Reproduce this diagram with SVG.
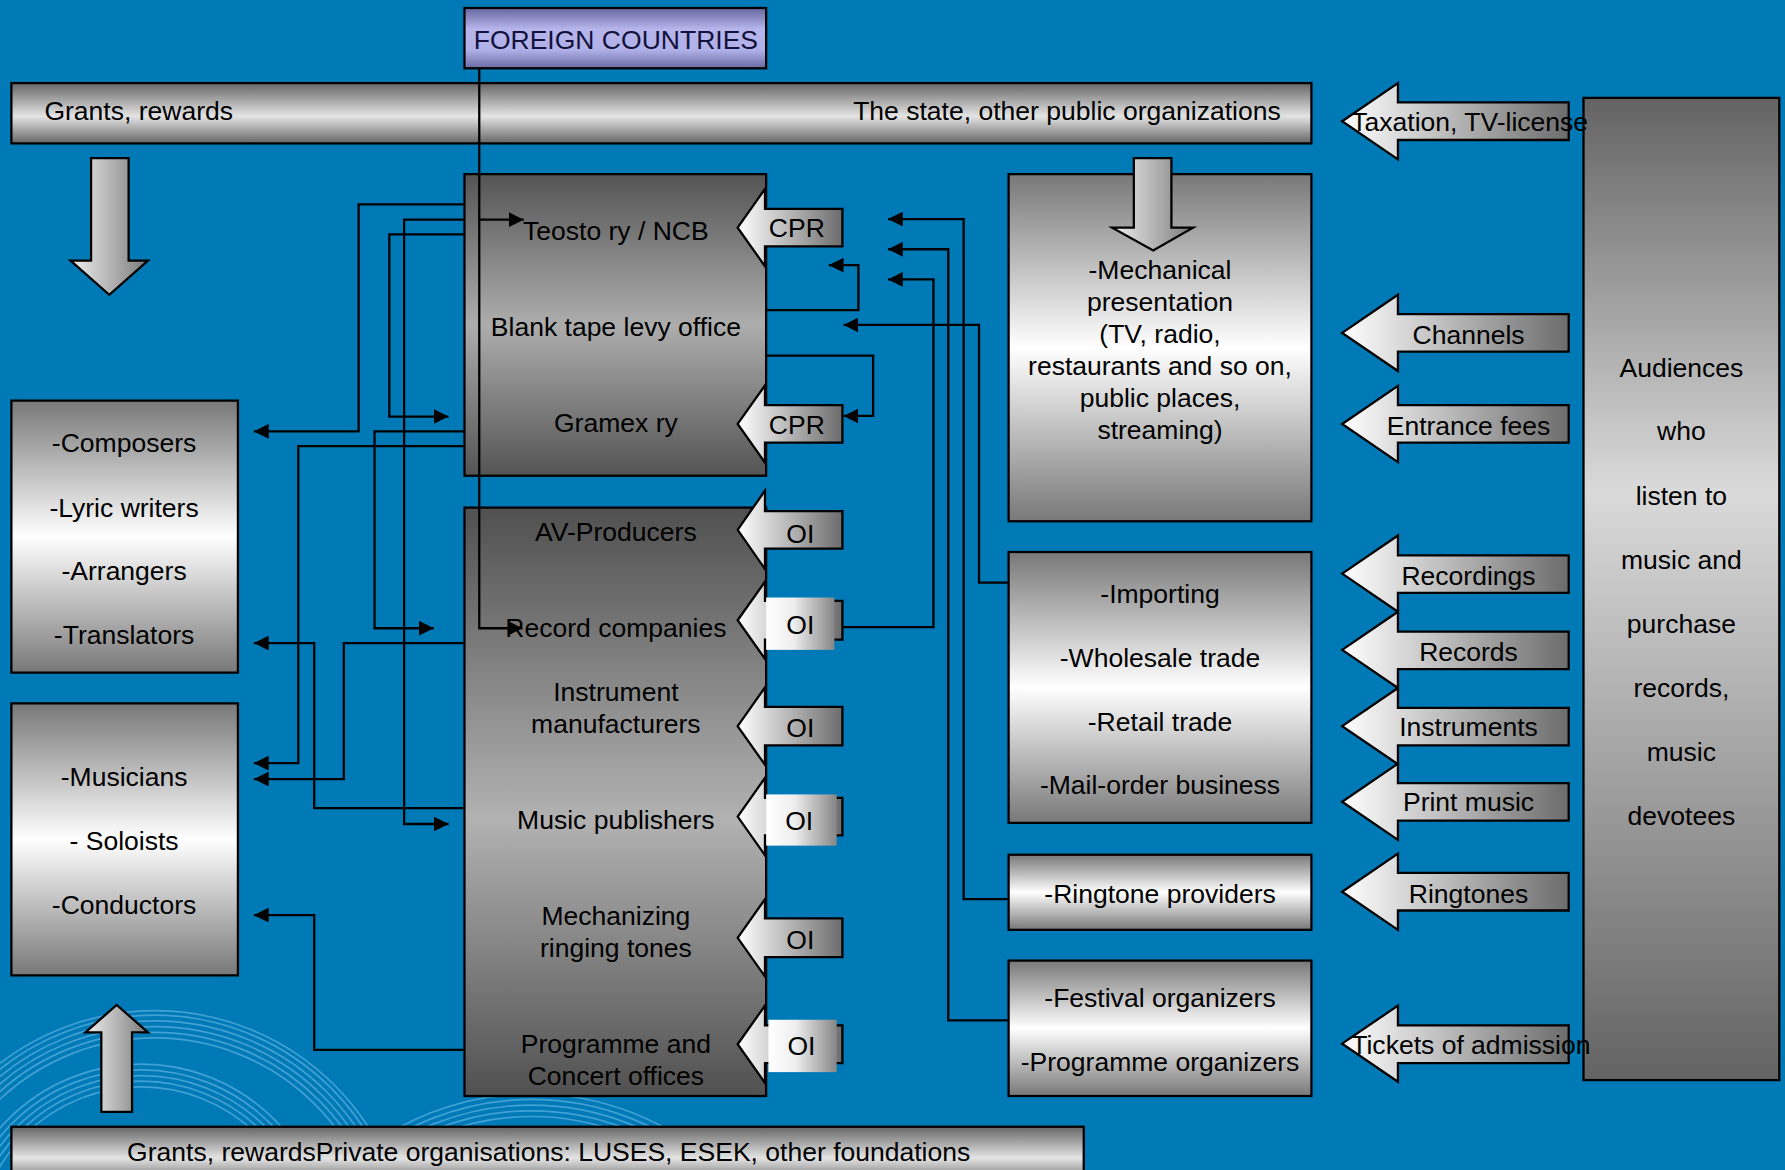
<svg xmlns="http://www.w3.org/2000/svg" width="1785" height="1170" viewBox="0 0 1785 1170">
<defs>
<style>
.t{font-family:"Liberation Sans",Arial,sans-serif;font-size:23.3px;fill:#000;text-anchor:middle}
.ts{text-anchor:start}
.te{text-anchor:end}
.bx{stroke:#000;stroke-width:2}
.ar{stroke:#000;stroke-width:2}
.c{fill:none;stroke:#000;stroke-width:2;marker-end:url(#ah)}
.ring{fill:none;stroke:#6cbbe8;stroke-width:1.5;opacity:0.6}
</style>
<linearGradient id="gBar" x1="0" y1="0" x2="0" y2="1">
<stop offset="0" stop-color="#666"/><stop offset="0.55" stop-color="#e4e4e4"/><stop offset="1" stop-color="#666"/>
</linearGradient>
<linearGradient id="gForeign" x1="0" y1="0" x2="0" y2="1">
<stop offset="0" stop-color="#66669e"/><stop offset="0.35" stop-color="#b6b6ec"/><stop offset="0.7" stop-color="#b0b0e8"/><stop offset="1" stop-color="#6a6aa2"/>
</linearGradient>
<linearGradient id="gDark" x1="0" y1="0" x2="0" y2="1">
<stop offset="0" stop-color="#545454"/><stop offset="0.5" stop-color="#adadad"/><stop offset="1" stop-color="#545454"/>
</linearGradient>
<linearGradient id="gProd" x1="0" y1="0" x2="0" y2="1">
<stop offset="0" stop-color="#505050"/><stop offset="0.53" stop-color="#b2b2b2"/><stop offset="1" stop-color="#505050"/>
</linearGradient>
<linearGradient id="gLight" x1="0" y1="0" x2="0" y2="1">
<stop offset="0" stop-color="#787878"/><stop offset="0.5" stop-color="#ffffff"/><stop offset="1" stop-color="#787878"/>
</linearGradient>
<linearGradient id="gAud" x1="0" y1="0" x2="0" y2="1">
<stop offset="0" stop-color="#636363"/><stop offset="0.4" stop-color="#dadada"/><stop offset="1" stop-color="#636363"/>
</linearGradient>
<linearGradient id="gArrow" x1="0" y1="0" x2="1" y2="0">
<stop offset="0" stop-color="#ffffff"/><stop offset="1" stop-color="#6c6c6c"/>
</linearGradient>
<linearGradient id="gOv" x1="0" y1="0" x2="1" y2="0">
<stop offset="0" stop-color="#ffffff"/><stop offset="0.4" stop-color="#eeeeee"/><stop offset="1" stop-color="#868686"/>
</linearGradient>
<linearGradient id="gBig" x1="0" y1="0" x2="1" y2="0">
<stop offset="0" stop-color="#f0f0f0"/><stop offset="1" stop-color="#7a7a7a"/>
</linearGradient>
<marker id="ah" viewBox="0 0 13 13" refX="13" refY="6.5" markerWidth="13" markerHeight="13" markerUnits="userSpaceOnUse" orient="auto">
<path d="M0,0 L13,6.5 L0,13 z" fill="#000"/>
</marker>
</defs>
<rect x="0" y="0" width="1785" height="1170" fill="#007ab7"/>
<g transform="scale(1.13839,1.13813)">
<g id="decor">
<circle class="ring" cx="136" cy="1111" r="199"/>
<circle class="ring" cx="136" cy="1111" r="204"/>
<circle class="ring" cx="136" cy="1111" r="209"/>
<circle class="ring" cx="136" cy="1111" r="214"/>
<circle class="ring" cx="136" cy="1111" r="219"/>
<circle class="ring" cx="136" cy="1111" r="223"/>
<circle class="ring" cx="124" cy="1100" r="145"/>
<circle class="ring" cx="124" cy="1100" r="150"/>
<circle class="ring" cx="124" cy="1100" r="155"/>
<circle class="ring" cx="124" cy="1100" r="160"/>
<circle class="ring" cx="124" cy="1100" r="165"/>
<circle class="ring" cx="467" cy="1203" r="222"/>
<circle class="ring" cx="467" cy="1203" r="227"/>
<circle class="ring" cx="467" cy="1203" r="232"/>
<circle class="ring" cx="467" cy="1203" r="237"/>
<circle class="ring" cx="467" cy="1203" r="242"/>
</g>
<g id="state-bar">
<rect class="bx" x="10" y="73" width="1142" height="53" fill="url(#gBar)"/>
<text class="t ts" x="39" y="105.5">Grants, rewards</text>
<text class="t te" x="1125" y="105.5">The state, other public organizations</text>
</g>
<g id="foreign">
<rect class="bx" x="408" y="7" width="265" height="53" fill="url(#gForeign)"/>
<text class="t" x="541" y="43" style="fill:#12123c">FOREIGN COUNTRIES</text>
</g>
<g id="grants-down">
<polygon class="ar" points="80,139 113,139 113,229 130,229 96,259 62,229 80,229" fill="url(#gBig)"/>
</g>
<g id="composers">
<rect class="bx" x="10" y="352" width="199" height="239" fill="url(#gLight)"/>
<text class="t" x="109" y="397">-Composers</text>
<text class="t" x="109" y="454">-Lyric writers</text>
<text class="t" x="109" y="510">-Arrangers</text>
<text class="t" x="109" y="566">-Translators</text>
</g>
<g id="musicians">
<rect class="bx" x="10" y="618" width="199" height="239" fill="url(#gLight)"/>
<text class="t" x="109" y="691">-Musicians</text>
<text class="t" x="109" y="747">- Soloists</text>
<text class="t" x="109" y="803">-Conductors</text>
</g>
<g id="grants-up">
<polygon class="ar" points="89,977 116,977 116,907 130,907 102.5,883 75,907 89,907" fill="url(#gBig)"/>
</g>
<g id="private-bar">
<rect class="bx" x="10" y="990" width="942" height="50" fill="url(#gBar)"/>
<text class="t" x="482" y="1020">Grants, rewardsPrivate organisations: LUSES, ESEK, other foundations</text>
</g>
<g id="collecting">
<rect class="bx" x="408" y="153" width="265" height="265" fill="url(#gDark)"/>
<text class="t" x="541" y="211">Teosto ry / NCB</text>
<text class="t" x="541" y="295">Blank tape levy office</text>
<text class="t" x="541" y="380">Gramex ry</text>
</g>
<g id="cpr-arrows">
<polygon class="ar" points="648,200 672,166 672,183.5 740,183.5 740,216.5 672,216.5 672,234" fill="url(#gArrow)"/>
<text class="t" x="700" y="208.5">CPR</text>
<polygon class="ar" points="648,372.5 672,338.5 672,356 740,356 740,389 672,389 672,406.5" fill="url(#gArrow)"/>
<text class="t" x="700" y="381">CPR</text>
</g>
<g id="producers">
<rect class="bx" x="408" y="446" width="265" height="517" fill="url(#gProd)"/>
<text class="t" x="541" y="475">AV-Producers</text>
<text class="t" x="541" y="560">Record companies</text>
<text class="t" x="541" y="616">Instrument</text>
<text class="t" x="541" y="644">manufacturers</text>
<text class="t" x="541" y="728">Music publishers</text>
<text class="t" x="541" y="813">Mechanizing</text>
<text class="t" x="541" y="841">ringing tones</text>
<text class="t" x="541" y="925">Programme and</text>
<text class="t" x="541" y="953">Concert offices</text>
</g>
<g id="oi-arrows">
<polygon class="ar" points="648,465.5 672,431 672,449 740,449 740,482 672,482 672,500" fill="url(#gArrow)"/>
<text class="t" x="703" y="477">OI</text>
<polygon class="ar" points="648,545 672,511 672,528 740,528 740,562 672,562 672,579" fill="url(#gArrow)"/>
<rect x="673" y="525" width="60" height="46" fill="url(#gOv)"/>
<text class="t" x="703" y="557">OI</text>
<polygon class="ar" points="648,638 672,604 672,621 740,621 740,655 672,655 672,672" fill="url(#gArrow)"/>
<text class="t" x="703" y="648">OI</text>
<polygon class="ar" points="648,717.5 672,683.5 672,701 740,701 740,734 672,734 672,751.5" fill="url(#gArrow)"/>
<rect x="673" y="698" width="62" height="45" fill="url(#gOv)"/>
<text class="t" x="702" y="729">OI</text>
<polygon class="ar" points="648,824 672,790 672,807 740,807 740,841 672,841 672,858" fill="url(#gArrow)"/>
<text class="t" x="703" y="834">OI</text>
<polygon class="ar" points="648,917.5 672,883.5 672,901 740,901 740,934 672,934 672,951.5" fill="url(#gArrow)"/>
<rect x="675" y="896" width="60" height="46" fill="url(#gOv)"/>
<text class="t" x="704" y="927">OI</text>
</g>
<g id="mechanical">
<rect class="bx" x="886" y="153" width="266" height="305" fill="url(#gLight)"/>
<polygon class="ar" points="996,139 1029,139 1029,200 1048,200 1013,220 977,200 996,200" fill="url(#gBig)"/>
<text class="t" x="1019" y="245">-Mechanical</text>
<text class="t" x="1019" y="273">presentation</text>
<text class="t" x="1019" y="301.5">(TV, radio,</text>
<text class="t" x="1019" y="329.5">restaurants and so on,</text>
<text class="t" x="1019" y="358">public places,</text>
<text class="t" x="1019" y="386">streaming)</text>
</g>
<g id="trade">
<rect class="bx" x="886" y="485" width="266" height="238" fill="url(#gLight)"/>
<text class="t" x="1019" y="530">-Importing</text>
<text class="t" x="1019" y="586">-Wholesale trade</text>
<text class="t" x="1019" y="642">-Retail trade</text>
<text class="t" x="1019" y="698">-Mail-order business</text>
</g>
<g id="ringtone">
<rect class="bx" x="886" y="751" width="266" height="66" fill="url(#gLight)"/>
<text class="t" x="1019" y="793">-Ringtone providers</text>
</g>
<g id="festival">
<rect class="bx" x="886" y="844" width="266" height="119" fill="url(#gLight)"/>
<text class="t" x="1019" y="885">-Festival organizers</text>
<text class="t" x="1019" y="941">-Programme organizers</text>
</g>
<g id="audiences">
<rect class="bx" x="1391" y="86" width="172" height="863" fill="url(#gAud)"/>
<text class="t" x="1477" y="331">Audiences</text>
<text class="t" x="1477" y="387">who</text>
<text class="t" x="1477" y="444">listen to</text>
<text class="t" x="1477" y="500">music and</text>
<text class="t" x="1477" y="556">purchase</text>
<text class="t" x="1477" y="612">records,</text>
<text class="t" x="1477" y="669">music</text>
<text class="t" x="1477" y="725">devotees</text>
</g>
<g id="payment-arrows">
<polygon class="ar" points="1179,106.5 1228,73 1228,90 1378,90 1378,123 1228,123 1228,140" fill="url(#gArrow)"/>
<text class="t ts" x="1187" y="115.5">Taxation, TV-license</text>
<polygon class="ar" points="1179,292.5 1228,259 1228,276 1378,276 1378,309 1228,309 1228,326" fill="url(#gArrow)"/>
<text class="t" x="1290" y="302">Channels</text>
<polygon class="ar" points="1179,372.5 1228,339 1228,356 1378,356 1378,389 1228,389 1228,406" fill="url(#gArrow)"/>
<text class="t" x="1290" y="382">Entrance fees</text>
<polygon class="ar" points="1179,504 1228,470.5 1228,488 1378,488 1378,521 1228,521 1228,537.5" fill="url(#gArrow)"/>
<text class="t" x="1290" y="514">Recordings</text>
<polygon class="ar" points="1179,571 1228,537.5 1228,555 1378,555 1378,588 1228,588 1228,604.5" fill="url(#gArrow)"/>
<text class="t" x="1290" y="581">Records</text>
<polygon class="ar" points="1179,638 1228,604.5 1228,622 1378,622 1378,655 1228,655 1228,671.5" fill="url(#gArrow)"/>
<text class="t" x="1290" y="647">Instruments</text>
<polygon class="ar" points="1179,704.5 1228,671 1228,688 1378,688 1378,721 1228,721 1228,738" fill="url(#gArrow)"/>
<text class="t" x="1290" y="713">Print music</text>
<polygon class="ar" points="1179,783.5 1228,750 1228,767 1378,767 1378,800 1228,800 1228,817" fill="url(#gArrow)"/>
<text class="t" x="1290" y="793">Ringtones</text>
<polygon class="ar" points="1179,917 1228,883.5 1228,901 1378,901 1378,934 1228,934 1228,950.5" fill="url(#gArrow)"/>
<text class="t ts" x="1187" y="926">Tickets of admission</text>
</g>
<g id="connectors">
<path class="c" d="M421,60 V552 H459"/>
<path class="c" d="M421,193 H460"/>
<path class="c" d="M408,179.5 H315 V379 H223"/>
<path class="c" d="M408,193 H355 V724 H394"/>
<path class="c" d="M408,206 H342 V366 H394"/>
<path class="c" d="M408,379 H329 V552 H381"/>
<path class="c" d="M408,392 H262 V670.5 H223"/>
<path class="c" d="M408,565 H302 V684.5 H223"/>
<path class="c" d="M408,710 H276 V565 H223"/>
<path class="c" d="M408,922.5 H276 V804 H223"/>
<path class="c" d="M886,790 H846.5 V192.5 H780"/>
<path class="c" d="M886,896.5 H833 V219 H780"/>
<path class="c" d="M740,551 H820 V245.5 H780"/>
<path class="c" d="M673,272.5 H754 V233 H728"/>
<path class="c" d="M886,512 H860 V285.5 H741"/>
<path class="c" d="M673,312.5 H767 V365.5 H741"/>
</g>
</g>
</svg>
